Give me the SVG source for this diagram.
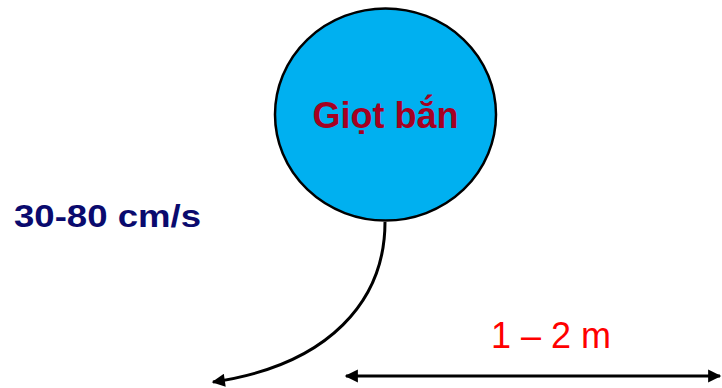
<svg xmlns="http://www.w3.org/2000/svg" width="722" height="388" viewBox="0 0 722 388">
<style>
.conn{fill:none;stroke:#000;stroke-width:3}
.t{font-family:"Liberation Sans",Arial,sans-serif}
</style>
<defs>
<marker id="ah" viewBox="0 0 10 10" refX="9" refY="5" markerWidth="5" markerHeight="4.4" orient="auto-start-reverse" markerUnits="strokeWidth">
<path d="M0,0 L10,5 L0,10 z" fill="#000"/>
</marker>
</defs>
<rect width="722" height="388" fill="#fff"/>
<g id="giot-ban">
<ellipse cx="385.5" cy="114.5" rx="110.5" ry="106" fill="#00B0F0" stroke="#000" stroke-width="2.5"/>
<text class="t" x="385.5" y="128" text-anchor="middle" font-size="36" font-weight="bold" fill="#A50021">Giọt bắn</text>
</g>
<g id="labels">
<text class="t" x="14" y="227" font-size="32" font-weight="bold" fill="#0A0A6E" textLength="187" lengthAdjust="spacingAndGlyphs">30-80 cm/s</text>
<text class="t" x="491" y="348" font-size="36" fill="#FF0000">1 – 2 m</text>
</g>
<g id="connectors">
<path class="conn" d="M385,222 C385,300 330,365 213,382" marker-end="url(#ah)"/>
<path class="conn" d="M346,376 L720,376" marker-start="url(#ah)" marker-end="url(#ah)"/>
</g>
</svg>
